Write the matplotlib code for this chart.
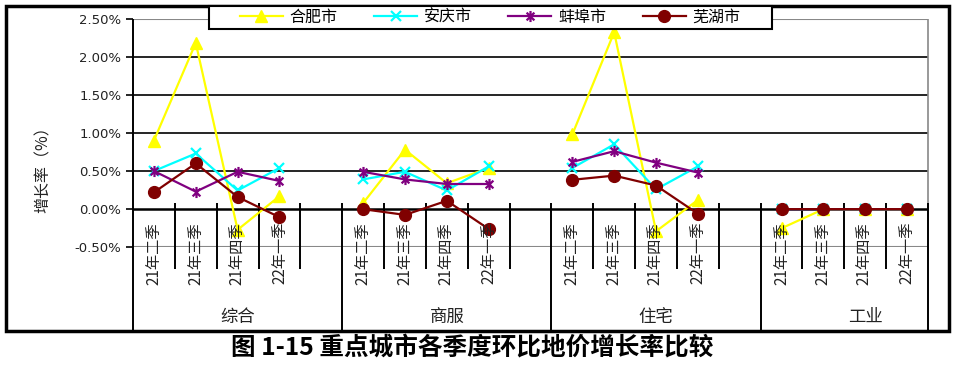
import numpy as np
import matplotlib
matplotlib.use("Agg")
import matplotlib.pyplot as plt
from matplotlib.path import Path
from matplotlib.patches import Rectangle

plt.rcParams['font.family'] = ['Noto Sans CJK SC', 'DejaVu Sans']

# 数据
grupos = ["综合", "商服", "住宅", "工业"]
trimestres = ["21年二季", "21年三季", "21年四季", "22年一季"]
ciudades = ["合肥市", "安庆市", "蚌埠市", "芜湖市"]

hefei = [0.90, 2.18, -0.27, 0.17, 0.08, 0.78, 0.34, 0.54, 0.98, 2.32, -0.29, 0.12, -0.25, 0.0, 0.0, 0.0]
anqing = [0.50, 0.73, 0.245, 0.54, 0.39, 0.49, 0.245, 0.56, 0.54, 0.85, 0.26, 0.56, 0.0, 0.0, 0.0, 0.0]
bengbu = [0.50, 0.23, 0.49, 0.37, 0.49, 0.39, 0.33, 0.33, 0.62, 0.76, 0.61, 0.48, 0.0, 0.0, 0.0, 0.0]
wuhu = [0.22, 0.60, 0.16, -0.105, 0.00, -0.075, 0.11, -0.26, 0.385, 0.44, 0.31, -0.06, 0.0, 0.0, 0.0, 0.0]

yTic = [-0.5, 0.0, 0.5, 1.0, 1.5, 2.0, 2.5]

# marcador asterisco tipo Excel
ast = Path([(0, -1), (0, 1), (-0.7, -0.7), (0.7, 0.7), (-0.7, 0.7), (0.7, -0.7)],
           [Path.MOVETO, Path.LINETO, Path.MOVETO, Path.LINETO, Path.MOVETO, Path.LINETO])

estilos = [
    dict(color="#FFFF00", marker="^", ms=9, mec="#FFFF00", mfc="#FFFF00"),
    dict(color="#00FFFF", marker="x", ms=7, mew=1.6),
    dict(color="#800080", marker=ast, ms=8, mew=1.6, mfc="none"),
    dict(color="#800000", marker="o", ms=8.5, mec="#800000", mfc="#800000"),
]

nSlot = len(grupos) * 5 - 1


def serie(val):
    """Coloca valores en slots con huecos entre grupos"""
    arr = np.full(nSlot, np.nan)
    for g in range(len(grupos)):
        for q in range(len(trimestres)):
            arr[g * 5 + q] = val[g * 4 + q]
    return arr


fig = plt.figure(figsize=(9.55, 3.7), dpi=100)
ax = fig.add_axes([133 / 955, 1 - 247.3 / 370, (928 - 133) / 955, (247.3 - 18.5) / 370])
ax.set_xlim(-0.5, nSlot - 0.5)
ax.set_ylim(-0.5, 2.5)
for s in ax.spines.values():
    s.set_visible(False)

# rejilla
for y in yTic:
    if y == 0:
        ax.axhline(y, color="black", lw=1.8, zorder=1)
    elif y in (-0.5, 2.5):
        ax.axhline(y, color="#888888", lw=1.5, zorder=1)
    else:
        ax.axhline(y, color="black", lw=1.2, zorder=1)

xs = np.arange(nSlot)
lineas = []
for nom, val, est in zip(ciudades, [hefei, anqing, bengbu, wuhu], estilos):
    ln, = ax.plot(xs, serie(val), lw=1.6, label=nom, zorder=3, clip_on=False, **est)
    lineas.append(ln)

ax.set_yticks(yTic)
ax.set_yticklabels([f"{v:.2f}%" for v in yTic], fontsize=9.5, color="#222222",
                   family=['DejaVu Sans'])
ax.tick_params(axis="y", direction="out", length=5, width=1.2, color="black")
ax.set_xticks([])

# ejes y separadores
ax.vlines(-0.5, -1.59, 2.5, color="black", lw=1.4, clip_on=False, zorder=2)
ax.vlines(nSlot - 0.5, 0, 2.5, color="#888888", lw=1.2, clip_on=False, zorder=2)
for k in range(1, nSlot + 1):
    xb = k - 0.5
    if k % 5 == 0 or k == nSlot:
        ax.vlines(xb, -1.59, 0.08, color="black", lw=1.4, clip_on=False, zorder=2)
    else:
        ax.vlines(xb, -0.785, 0.08, color="black", lw=1.4, clip_on=False, zorder=2)

for g, nomG in enumerate(grupos):
    for q, tri in enumerate(trimestres):
        ax.text(g * 5 + q, -0.167, tri, rotation=90, ha="center", va="top",
                fontsize=11, color="#222222", clip_on=False)
    ax.text(g * 5 + 2, -1.41, nomG, ha="center", va="center", fontsize=12.5,
            color="#222222", clip_on=False)

fig.text(43 / 955, 1 - 166 / 370, "增长率（%）", rotation=90, ha="center", va="center",
         fontsize=11.5, color="#222222")

# leyenda
fig.patches.append(Rectangle((209 / 955, 1 - 29 / 370), (772 - 209) / 955, 23 / 370,
                             transform=fig.transFigure, facecolor="white",
                             edgecolor="black", lw=1.5, zorder=5))
leg = fig.legend(handles=lineas, ncol=4, loc="center", bbox_to_anchor=(490 / 955, 1 - 17.5 / 370),
                 frameon=False, fontsize=11.5, handlelength=2.7, handletextpad=0.4,
                 columnspacing=2.3)
leg.set_zorder(6)

# marco de la figura
fig.patches.append(Rectangle((6 / 955, 1 - 331 / 370), (949 - 6) / 955, 325 / 370,
                             transform=fig.transFigure, facecolor="none",
                             edgecolor="black", lw=2.5))

fig.text(472 / 955, 1 - 348 / 370, "图 1-15 重点城市各季度环比地价增长率比较",
         ha="center", va="center", fontsize=17.7, fontweight="bold")

fig.savefig("out.png", dpi=100)
